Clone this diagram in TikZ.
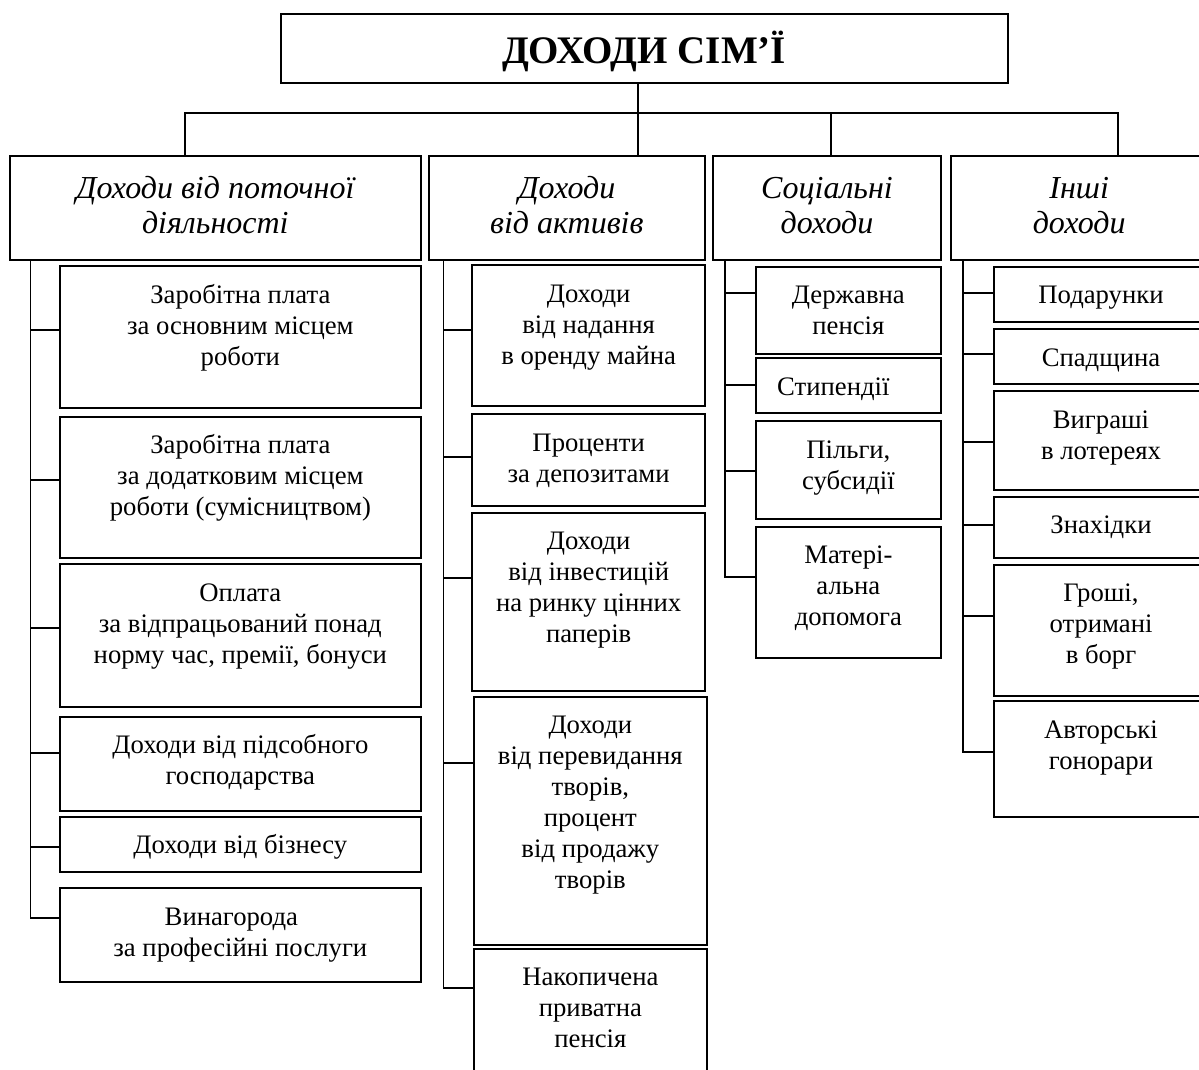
\documentclass[tikz,border=0pt]{standalone}
\usepackage{fontspec}
\setmainfont{Liberation Serif}
\tikzset{
  box/.style={draw, line width=2pt, inner sep=0pt, outer sep=0pt},
  cfont/.style={font=\fontsize{26.7}{31}\selectfont, align=center, inner sep=0pt},
  kfont/.style={font=\fontsize{32}{35}\selectfont\itshape, align=center, inner sep=0pt},
  tfont/.style={font=\fontsize{39}{45}\selectfont\bfseries, align=center, inner sep=0pt},
  conn/.style={line width=1.8pt},
}
% #1 name, #2 x1, #3 y1, #4 x2, #5 y2, #6 text style, #7 top offset, #8 strut, #9 text
\newcommand\genbox[9]{%
  \node[box, anchor=north west, minimum width={(#4-#2)*1pt}, minimum height={(#5-#3)*1pt}] (#1) at (#2,#3) {};
  \node[#6, anchor=north] (#1t) at ([yshift=-#7pt]#1.north) {\rule{0pt}{#8pt}#9};}
\newcommand\chbox[6]{\genbox{#1}{#2}{#3}{#4}{#5}{cfont}{16}{21}{#6}}
\newcommand\catbox[6]{\genbox{#1}{#2}{#3}{#4}{#5}{kfont}{17}{25}{#6}}
\begin{document}
\begin{tikzpicture}[x=1pt,y=-1pt]
\useasboundingbox (0,0) rectangle (1199,1070);
% title
\genbox{title}{280.5}{14}{1007.6}{83.5}{tfont}{17}{30}{ДОХОДИ СІМ’Ї}
% categories
\catbox{ka}{9.6}{156}{421}{260}{Доходи від поточної\\діяльності}
\catbox{kb}{428.6}{156}{705}{260}{Доходи\\від активів}
\catbox{kc}{712.5}{156}{941.4}{260}{Соціальні\\доходи}
\catbox{kd}{951.3}{156}{1207}{260}{Інші\\доходи}
% column 1
\chbox{a1}{60}{266}{420.7}{408.3}{Заробітна плата\\за основним місцем\\роботи}
\chbox{a2}{60}{416.7}{420.7}{558.3}{Заробітна плата\\за додатковим місцем\\роботи (сумісництвом)}
\chbox{a3}{60}{564.3}{420.7}{706.7}{Оплата\\за відпрацьований понад\\норму час, премії, бонуси}
\chbox{a4}{60}{716.7}{420.7}{810.7}{Доходи від підсобного\\господарства}
\chbox{a5}{60}{816.7}{420.7}{872.3}{Доходи від бізнесу}
\chbox{a6}{60}{888.3}{420.7}{982.3}{Винагорода\hspace*{18pt}\mbox{}\\за професійні послуги}
% column 2
\chbox{b1}{472.3}{265}{705}{405.7}{Доходи\\від надання\\в оренду майна}
\chbox{b2}{472.3}{414.3}{705}{506}{Проценти\\за депозитами}
\chbox{b3}{472.3}{512.7}{705}{691}{Доходи\\від інвестицій\\на ринку цінних\\паперів}
\chbox{b4}{474}{696.7}{706.7}{945}{Доходи\\від перевидання\\творів,\\процент\\від продажу\\творів}
\chbox{b5}{474}{948.7}{706.7}{1085}{Накопичена\\приватна\\пенсія}
% column 3
\chbox{c1}{756}{266.7}{940.7}{354.3}{Державна\\пенсія}
\chbox{c2}{756}{358.3}{940.7}{413.3}{Стипендії\hspace*{30pt}\mbox{}}
\chbox{c3}{756}{421}{940.7}{519.3}{Пільги,\\субсидії}
\chbox{c4}{756}{526.7}{940.7}{658.3}{Матері-\\альна\\допомога}
% column 4
\chbox{d1}{994}{266.7}{1208}{321.7}{Подарунки}
\chbox{d2}{994}{329}{1208}{384}{Спадщина}
\chbox{d3}{994}{391}{1208}{490}{Виграші\\в лотереях}
\chbox{d4}{994}{496.7}{1208}{557.7}{Знахідки}
\chbox{d5}{994}{564.5}{1208}{695.7}{Гроші,\\отримані\\в борг}
\chbox{d6}{994}{701}{1208}{816.7}{Авторські\\гонорари}
% hub
\coordinate (h1) at (184.8,113);
\coordinate (h2) at (638.3,113);
\coordinate (h3) at (831,113);
\coordinate (h4) at (1117.8,113);
\draw[conn] (h1 |- ka.north) -- (h1) -- (h4) -- (h4 |- kd.north);
\draw[conn] (h2 |- title.south) -- (h2 |- kb.north);
\draw[conn] (h3) -- (h3 |- kc.north);
% column 1 connectors
\coordinate (ja1) at (30.4,330);
\coordinate (ja2) at (30.4,480);
\coordinate (ja3) at (30.4,628);
\coordinate (ja4) at (30.4,752.7);
\coordinate (ja5) at (30.4,846.7);
\coordinate (ja6) at (30.4,917.7);
\draw[conn] (ja1 |- ka.south) -- (ja6) -- (ja6 -| a6.west);
\foreach \i in {1,...,5}{\draw[conn] (ja\i) -- (ja\i -| a\i.west);}
% column 2 connectors
\coordinate (jb1) at (443.5,330);
\coordinate (jb2) at (443.5,456.7);
\coordinate (jb3) at (443.5,578.3);
\coordinate (jb4) at (443.5,763.3);
\coordinate (jb5) at (443.5,988.3);
\draw[conn] (jb1 |- kb.south) -- (jb5) -- (jb5 -| b5.west);
\foreach \i in {1,...,4}{\draw[conn] (jb\i) -- (jb\i -| b\i.west);}
% column 3 connectors
\coordinate (jc1) at (725,292.7);
\coordinate (jc2) at (725,385);
\coordinate (jc3) at (725,471);
\coordinate (jc4) at (725,576.7);
\draw[conn] (jc1 |- kc.south) -- (jc4) -- (jc4 -| c4.west);
\foreach \i in {1,...,3}{\draw[conn] (jc\i) -- (jc\i -| c\i.west);}
% column 4 connectors
\coordinate (jd1) at (962.7,292.7);
\coordinate (jd2) at (962.7,354);
\coordinate (jd3) at (962.7,442.3);
\coordinate (jd4) at (962.7,525);
\coordinate (jd5) at (962.7,616);
\coordinate (jd6) at (962.7,751.7);
\draw[conn] (jd1 |- kd.south) -- (jd6) -- (jd6 -| d6.west);
\foreach \i in {1,...,5}{\draw[conn] (jd\i) -- (jd\i -| d\i.west);}
\end{tikzpicture}
\end{document}
